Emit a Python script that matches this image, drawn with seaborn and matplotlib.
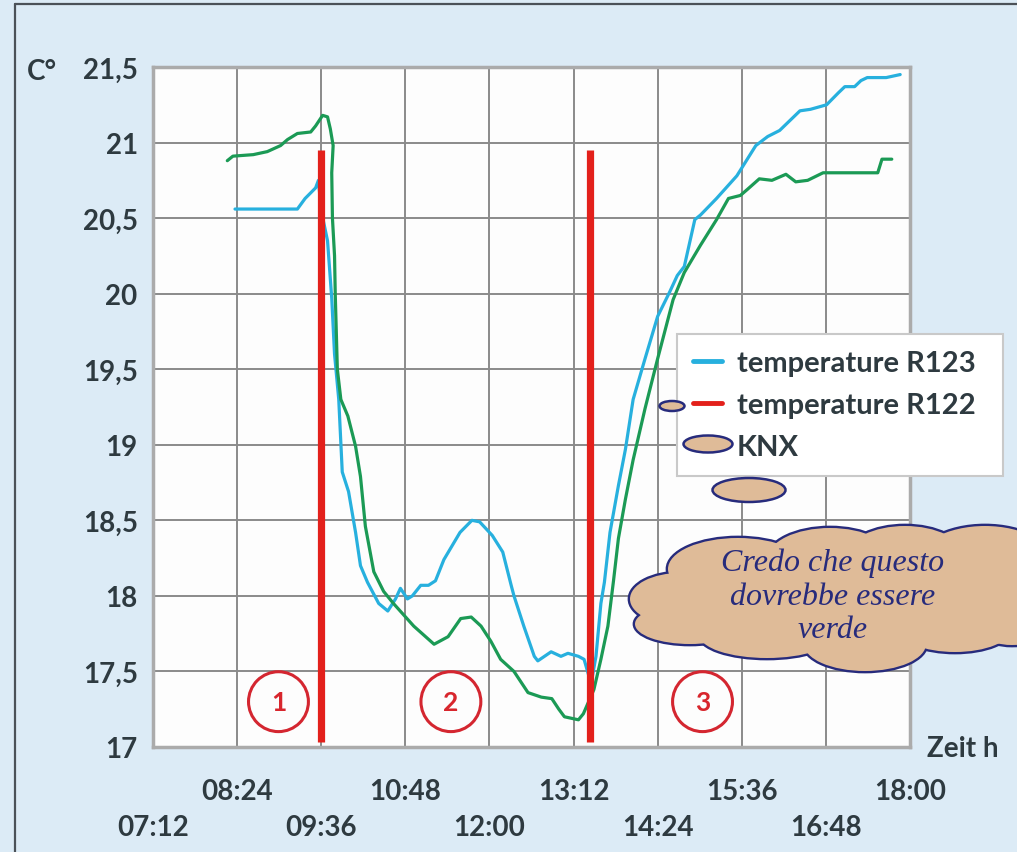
import numpy as np
import pandas as pd
import matplotlib
matplotlib.use("Agg")
import matplotlib.pyplot as plt
import seaborn as sns
from matplotlib.patches import Ellipse
from matplotlib.lines import Line2D

# ---------------- data ----------------
r123_time = [8.37, 9.26, 9.37, 9.52, 9.56, 9.60, 9.69, 9.75, 9.79, 9.85, 9.90, 9.99,
             10.09, 10.16, 10.26, 10.42, 10.55, 10.66, 10.73, 10.83, 10.90, 11.02,
             11.13, 11.23, 11.35, 11.58, 11.75, 11.86, 12.04, 12.19, 12.31, 12.35,
             12.49, 12.64, 12.69, 12.88, 13.02, 13.12, 13.27, 13.35, 13.45, 13.52,
             13.59, 13.64, 13.72, 13.84, 13.94, 14.05, 14.22, 14.40, 14.57, 14.68,
             14.78, 14.93, 15.01, 15.24, 15.53, 15.80, 15.97, 16.14, 16.43, 16.58,
             16.81, 16.98, 17.07, 17.21, 17.30, 17.39, 17.66, 17.86]
r123_temp = [20.56, 20.56, 20.63, 20.70, 20.75, 20.55, 20.35, 19.97, 19.60, 19.30, 18.82, 18.69,
             18.42, 18.20, 18.09, 17.95, 17.90, 17.98, 18.05, 17.98, 18.00, 18.07,
             18.07, 18.10, 18.24, 18.42, 18.50, 18.49, 18.40, 18.29, 18.07, 18.00,
             17.80, 17.60, 17.57, 17.63, 17.60, 17.62, 17.60, 17.58, 17.42, 17.60,
             17.95, 18.09, 18.42, 18.73, 18.97, 19.30, 19.57, 19.85, 20.01, 20.12,
             20.18, 20.49, 20.52, 20.63, 20.78, 20.98, 21.04, 21.08, 21.21, 21.22,
             21.25, 21.33, 21.37, 21.37, 21.41, 21.43, 21.43, 21.45]

knx_time = [8.26, 8.34, 8.63, 8.83, 9.02, 9.12, 9.26, 9.45, 9.52, 9.62, 9.69, 9.73,
            9.77, 9.75, 9.76, 9.79, 9.80, 9.83, 9.88, 9.98, 10.09, 10.16, 10.23, 10.35,
            10.49, 10.63, 10.92, 11.21, 11.41, 11.59, 11.74, 11.88, 12.02, 12.16,
            12.35, 12.55, 12.74, 12.89, 12.99, 13.07, 13.27, 13.34, 13.49, 13.59,
            13.69, 13.77, 13.84, 13.94, 14.05, 14.22, 14.40, 14.62, 14.78, 15.01,
            15.24, 15.41, 15.58, 15.68, 15.85, 16.03, 16.23, 16.37, 16.54, 16.76,
            17.54, 17.60, 17.74]
knx_temp = [20.88, 20.91, 20.92, 20.94, 20.98, 21.02, 21.06, 21.07, 21.11, 21.18, 21.17, 21.09,
            20.98, 20.80, 20.50, 20.25, 20.00, 19.50, 19.30, 19.19, 18.99, 18.79, 18.46, 18.16,
            18.03, 17.95, 17.80, 17.68, 17.73, 17.85, 17.86, 17.80, 17.70, 17.58,
            17.50, 17.36, 17.33, 17.32, 17.25, 17.20, 17.18, 17.22, 17.38, 17.58,
            17.80, 18.10, 18.38, 18.64, 18.90, 19.24, 19.57, 19.96, 20.14, 20.32,
            20.49, 20.63, 20.65, 20.69, 20.76, 20.75, 20.79, 20.74, 20.75, 20.80,
            20.80, 20.89, 20.89]

marker_time = [9.60, 13.44]
marker_top = 20.95
marker_bottom = 17.03

phase_labels = ["1", "2", "3"]
phase_time = [8.99, 11.45, 15.04]
phase_temp = [17.30, 17.30, 17.30]

y_ticks = [17.0, 17.5, 18.0, 18.5, 19.0, 19.5, 20.0, 20.5, 21.0, 21.5]
y_ticklabels = ["17", "17,5", "18", "18,5", "19", "19,5", "20", "20,5", "21", "21,5"]
x_ticks_top = [8.4, 10.8, 13.2, 15.6, 18.0]
x_ticklabels_top = ["08:24", "10:48", "13:12", "15:36", "18:00"]
x_ticks_bottom = [7.2, 9.6, 12.0, 14.4, 16.8]
x_ticklabels_bottom = ["07:12", "09:36", "12:00", "14:24", "16:48"]

legend_labels = ["temperature R123", "temperature R122", "KNX"]
y_unit = "C°"
x_unit = "Zeit h"
note_text = "Credo che questo\ndovrebbe essere\nverde"

# ---------------- styling ----------------
sns.set_style("white")
plt.rcParams['font.family'] = ['Lato', 'DejaVu Sans']

CYAN = "#27b0de"
GREEN = "#1b9a55"
RED = "#e3201b"
TXT = "#2e3a40"
BG = "#dcebf6"
NAVY = "#272b7c"
TAN = "#dfbb98"
FW = "bold"

W, H = 1017, 853
fig = plt.figure(figsize=(W / 100, H / 100), dpi=100)
fig.patch.set_facecolor(BG)

ax = fig.add_axes([153 / W, 1 - 748 / H, (910 - 153) / W, (748 - 68) / H])
ax.set_facecolor("#fdfdfd")

df_r123 = pd.DataFrame({"time": r123_time, "temp": r123_temp})
df_knx = pd.DataFrame({"time": knx_time, "temp": knx_temp})

sns.lineplot(data=df_r123, x="time", y="temp", ax=ax, color=CYAN, lw=2.3,
             sort=False, estimator=None, zorder=3)
sns.lineplot(data=df_knx, x="time", y="temp", ax=ax, color=GREEN, lw=2.3,
             sort=False, estimator=None, zorder=3)
ax.vlines(marker_time, marker_bottom, marker_top, color=RED, lw=5.2, zorder=4)

for lab, t, v in zip(phase_labels, phase_time, phase_temp):
    ax.text(t, v, lab, ha="center", va="center", color="#d8262d", fontsize=19,
            fontweight=FW,
            bbox=dict(boxstyle="circle,pad=0.68", fc="none", ec="#d42630", lw=2.2),
            zorder=5)

ax.set_xlim(7.2, 18.0)
ax.set_ylim(17.0, 21.5)
ax.set_xticks(x_ticks_top)
ax.set_xticklabels(x_ticklabels_top)
ax.set_xticks(x_ticks_bottom, minor=True)
ax.set_xticklabels(x_ticklabels_bottom, minor=True)
ax.set_yticks(y_ticks)
ax.set_yticklabels(y_ticklabels)
ax.set_xlabel("")
ax.set_ylabel("")

ax.tick_params(axis="x", which="major", length=0, pad=22, labelsize=20, labelcolor=TXT)
ax.tick_params(axis="x", which="minor", length=0, pad=48, labelsize=20, labelcolor=TXT)
ax.tick_params(axis="y", length=0, pad=11, labelsize=20, labelcolor=TXT)
for lbl in ax.get_xticklabels(which="both") + ax.get_yticklabels():
    lbl.set_fontweight(FW)

ax.grid(True, which="both", color="#8a8a8a", lw=1.4)
ax.set_axisbelow(True)
for s in ax.spines.values():
    s.set_visible(True)
    s.set_color("#ababab")
    s.set_linewidth(2.5)

fig.text(42 / W, 1 - 72 / H, y_unit, ha="center", va="center", fontsize=20,
         fontweight=FW, color=TXT)
fig.text(963 / W, 1 - 749 / H, x_unit, ha="center", va="center", fontsize=20,
         fontweight=FW, color=TXT)

handles = [Line2D([], [], color=CYAN, lw=3.5),
           Line2D([], [], color=RED, lw=3.5),
           Line2D([], [], color=GREEN, lw=3.5)]
leg = fig.legend(handles, legend_labels, loc="upper left",
                 bbox_to_anchor=(677 / W, 1 - 473 / H, 326 / W, (473 - 335) / H),
                 mode="expand", fontsize=21, handlelength=1.0, handletextpad=0.5,
                 labelspacing=0.55, borderpad=0.55, borderaxespad=0, frameon=True,
                 fancybox=False, framealpha=1, facecolor="white", edgecolor="#c9c9c9")
leg.get_frame().set_linewidth(1.5)
for t in leg.get_texts():
    t.set_color(TXT)
    t.set_fontweight(FW)

# overlay in pixel coordinates for the frame and the callout cloud
ov = fig.add_axes([0, 0, 1, 1], zorder=10)
ov.set_xlim(0, W)
ov.set_ylim(H, 0)
ov.axis("off")
ov.patch.set_alpha(0)
ov.plot([15, 15], [5, H], color="#4b5158", lw=1.6)
ov.plot([15, W], [5, 5], color="#4b5158", lw=1.6)

cloud = [(680, 600, 100, 52), (690, 625, 110, 40), (738, 570, 140, 62),
         (830, 560, 125, 62), (905, 556, 115, 58), (985, 566, 140, 78),
         (1012, 610, 100, 72), (767, 636, 135, 46), (865, 645, 122, 54),
         (955, 630, 112, 46), (840, 600, 300, 80)]
for cx, cy, w, h in cloud:
    ov.add_patch(Ellipse((cx, cy), w, h, fc=TAN, ec=NAVY, lw=3.4))
for cx, cy, w, h in cloud:
    ov.add_patch(Ellipse((cx, cy), w, h, fc=TAN, ec="none", lw=0))
for cx, cy, w, h in [(672, 407, 25, 10), (708, 445, 49, 17), (749, 491, 73, 24)]:
    ov.add_patch(Ellipse((cx, cy), w, h, fc=TAN, ec=NAVY, lw=1.8))
ov.text(833, 597, note_text, ha="center", va="center", fontsize=23,
        family=["Liberation Serif", "DejaVu Serif"], style="italic", color=NAVY,
        linespacing=1.2)

fig.savefig("out.png", dpi=100, facecolor=fig.get_facecolor())
